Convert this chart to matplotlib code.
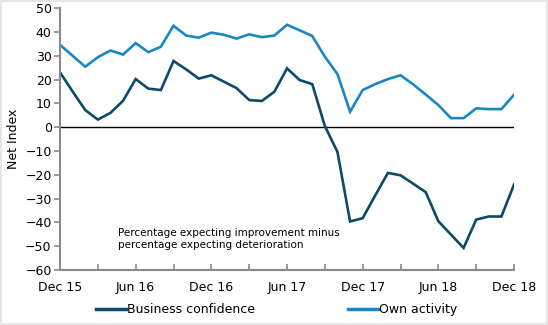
import matplotlib

matplotlib.use("Agg")
import matplotlib.pyplot as plt
from matplotlib.lines import Line2D
from matplotlib.patches import Rectangle

# Monthly net balances, Dec 15 .. Dec 18
business_confidence = [
    23.0, 15.0, 7.2, 3.2, 6.0, 11.1, 20.2, 16.2, 15.6, 27.8, 24.3, 20.4, 21.8,
    19.1, 16.4, 11.4, 11.0, 14.9, 24.7, 19.8, 18.1, 0.5, -10.4, -39.6, -38.2,
    -28.6, -19.2, -20.2, -23.7, -27.3, -39.5, -45.1, -50.7, -38.8, -37.5,
    -37.5, -24.1,
]
own_activity = [
    34.6, 30.0, 25.4, 29.4, 32.2, 30.5, 35.3, 31.5, 33.8, 42.6, 38.5, 37.6,
    39.7, 38.8, 37.2, 39.0, 37.8, 38.5, 43.0, 40.7, 38.3, 29.6, 22.3, 6.5,
    15.6, 18.1, 20.2, 21.8, 18.0, 13.7, 9.3, 3.8, 3.8, 7.9, 7.6, 7.6, 13.6,
]
tick_labels = ["Dec 15", "Jun 16", "Dec 16", "Jun 17", "Dec 17", "Jun 18", "Dec 18"]

dark_blue = "#0c4a6a"
light_blue = "#1a87c2"
axis_grey = "#8a8a8a"

fig = plt.figure(figsize=(5.48, 3.25), dpi=100)
fig.patch.set_facecolor("white")
ax = fig.add_axes([0.1095, 0.169, 0.8285, 0.806])

months = list(range(len(business_confidence)))
ax.plot(months, business_confidence, color=dark_blue, lw=1.9, solid_joinstyle="miter")
ax.plot(months, own_activity, color=light_blue, lw=1.9, solid_joinstyle="miter")
ax.axhline(0, color="black", lw=1.0, zorder=1)

ax.set_xlim(0, len(months) - 1)
ax.set_ylim(-60, 50)
ax.set_yticks(range(-60, 51, 10))
ax.set_xticks(range(0, len(months), 3), minor=True)
ax.set_xticks(range(0, len(months), 6))
ax.set_xticklabels(tick_labels)

for side in ("top", "right"):
    ax.spines[side].set_visible(False)
for side in ("left", "bottom"):
    ax.spines[side].set_color(axis_grey)
    ax.spines[side].set_linewidth(1.5)

ax.tick_params(axis="y", direction="out", length=4, width=1.2, color=axis_grey,
               labelsize=9, pad=2)
ax.tick_params(axis="x", which="both", direction="in", length=4, width=1.2,
               color=axis_grey, labelsize=9, pad=8)
ax.set_ylabel("Net Index", fontsize=9, labelpad=4)

ax.text(4.6, -47.0, "Percentage expecting improvement minus\npercentage expecting deterioration",
        fontsize=7.5, va="center", ha="left", linespacing=1.3)

handles = [
    Line2D([], [], color=dark_blue, lw=2.5),
    Line2D([], [], color=light_blue, lw=2.5),
]
fig.legend(handles, ["Business confidence", "Own activity"], loc="center",
           bbox_to_anchor=(0.505, 0.047), ncol=2, frameon=False, fontsize=9,
           handlelength=2.4, handletextpad=0.1, columnspacing=7.4)

fig.add_artist(Rectangle((0.001, 0.003), 0.997, 0.994, transform=fig.transFigure,
                         fill=False, edgecolor="#e2e2e2", lw=1.2))

fig.savefig("out.png", dpi=100)
